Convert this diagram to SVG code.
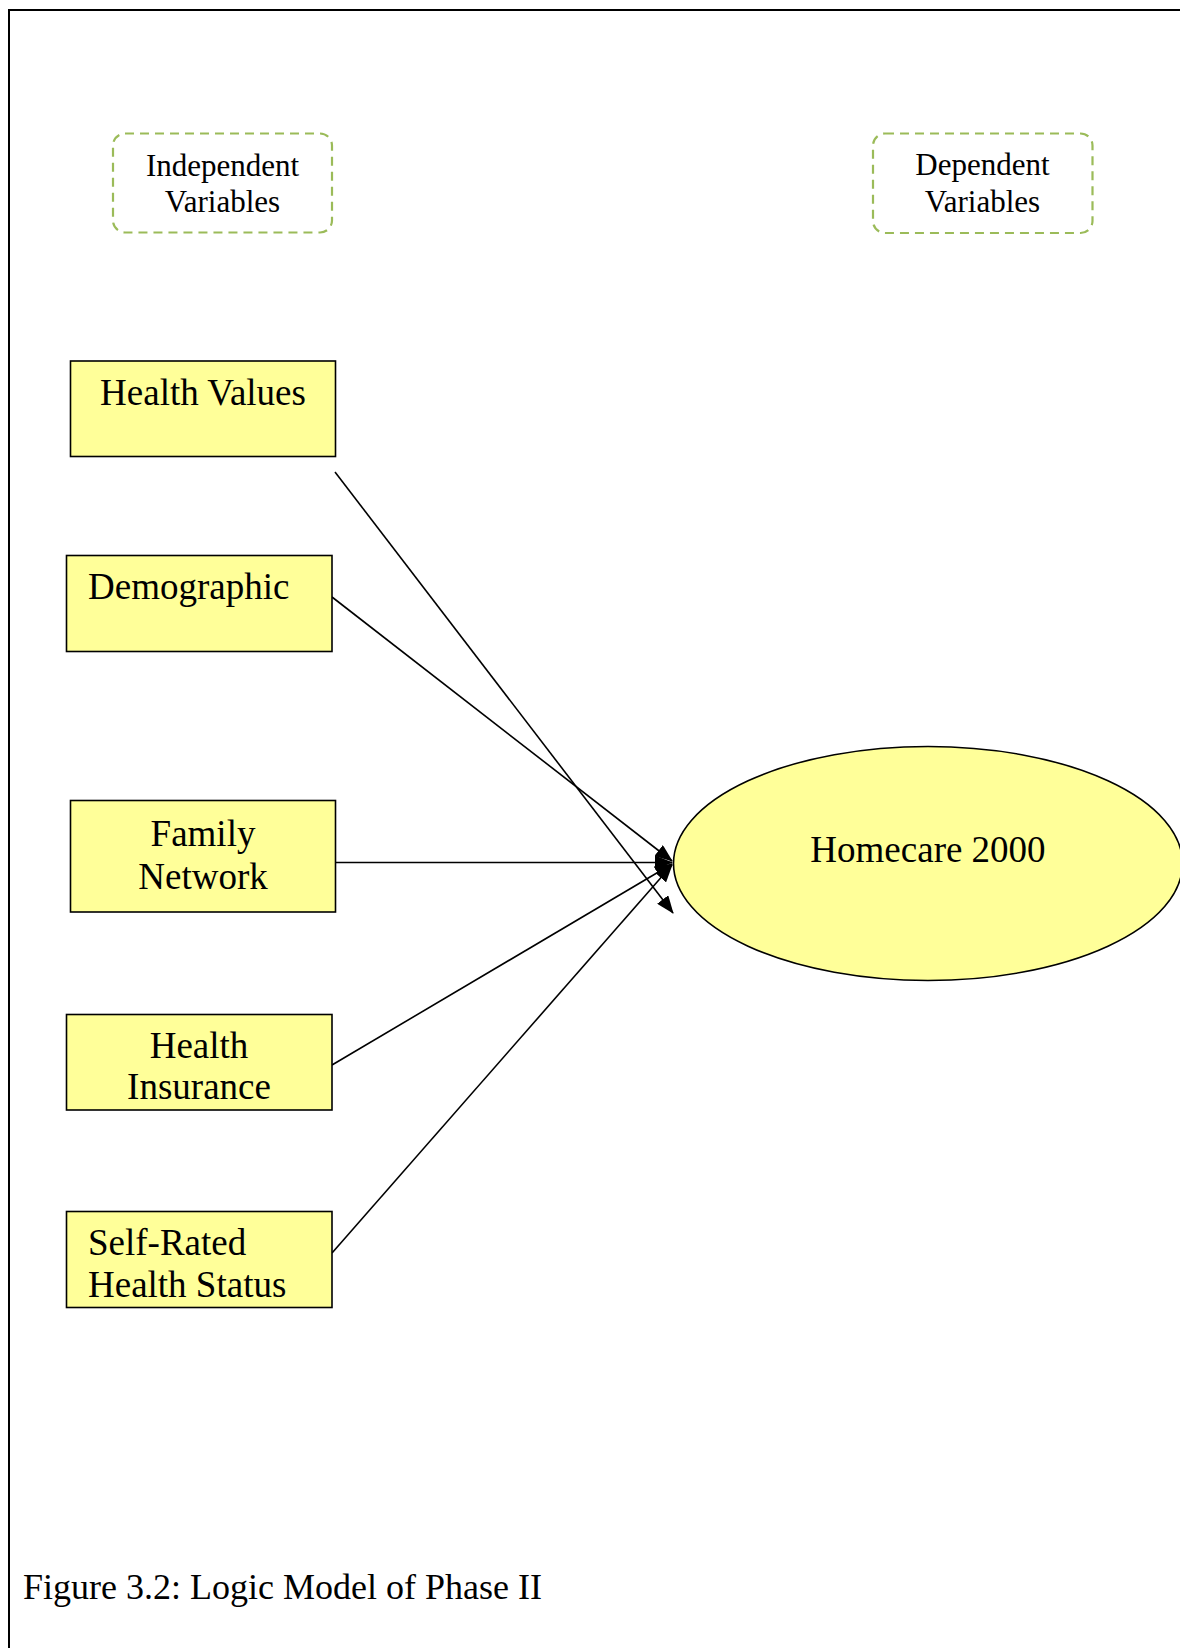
<svg xmlns="http://www.w3.org/2000/svg" width="1180" height="1648" viewBox="0 0 1180 1648">
<defs>
<style>
.frame{fill:none;stroke:#000;stroke-width:2}
.legend{fill:#fff;stroke:#9BBB59;stroke-width:2.2;stroke-dasharray:9 6}
.box{fill:#FFFF99;stroke:#000;stroke-width:1.6}
.t{font-family:"Liberation Serif","Times New Roman",serif;fill:#000}
.lt{font-size:31px;text-anchor:middle}
.bt{font-size:37px}
.c{text-anchor:middle}
.edge{stroke:#000;stroke-width:1.6;fill:none;marker-end:url(#arrow)}
</style>
<marker id="arrow" markerUnits="userSpaceOnUse" markerWidth="18" markerHeight="14" viewBox="0 0 18 14" refX="17" refY="7" orient="auto">
<path d="M0,0 L18,7 L0,14 Z" fill="#000"/>
</marker>
</defs>
<rect width="1180" height="1648" fill="#fff"/>
<path class="frame" d="M9,1648 V10 H1180"/>

<g id="independent-variables">
<rect class="legend" x="113" y="133.5" width="219" height="99" rx="12"/>
<text class="t lt" x="222.5" y="176">Independent</text>
<text class="t lt" x="222.5" y="212">Variables</text>
</g>
<g id="dependent-variables">
<rect class="legend" x="873" y="133.5" width="219.5" height="99.5" rx="12"/>
<text class="t lt" x="982.5" y="175">Dependent</text>
<text class="t lt" x="982.5" y="212">Variables</text>
</g>

<g id="connectors">
<line class="edge" x1="335" y1="472" x2="673" y2="913"/>
<line class="edge" x1="332" y1="597" x2="672" y2="861"/>
<line class="edge" x1="335.5" y1="862.5" x2="672" y2="862.5"/>
<line class="edge" x1="332" y1="1065" x2="672" y2="864"/>
<line class="edge" x1="332" y1="1253" x2="672" y2="865"/>
</g>

<g id="health-values">
<rect class="box" x="70.5" y="361" width="265" height="95.5"/>
<text class="t bt c" x="203" y="405">Health Values</text>
</g>
<g id="demographic">
<rect class="box" x="66.5" y="555.5" width="265.5" height="96"/>
<text class="t bt" x="88" y="599">Demographic</text>
</g>
<g id="family-network">
<rect class="box" x="70.5" y="800.5" width="265" height="111.5"/>
<text class="t bt c" x="203" y="846">Family</text>
<text class="t bt c" x="203" y="889">Network</text>
</g>
<g id="health-insurance">
<rect class="box" x="66.5" y="1014.5" width="265.5" height="95.5"/>
<text class="t bt c" x="199" y="1058">Health</text>
<text class="t bt c" x="199" y="1099">Insurance</text>
</g>
<g id="self-rated-health-status">
<rect class="box" x="66.5" y="1211.5" width="265.5" height="96"/>
<text class="t bt" x="88" y="1255">Self-Rated</text>
<text class="t bt" x="88" y="1296.5">Health Status</text>
</g>
<g id="homecare-2000">
<ellipse class="box" cx="928" cy="863.5" rx="254.5" ry="117"/>
<text class="t bt c" x="928" y="862">Homecare 2000</text>
</g>

<text class="t" x="23" y="1599" font-size="36">Figure 3.2: Logic Model of Phase II</text>
</svg>
